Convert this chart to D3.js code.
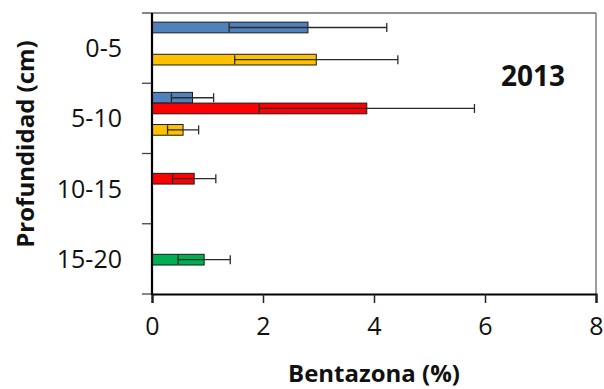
<!DOCTYPE html>
<html>
<head>
<meta charset="utf-8">
<script src="https://cdn.jsdelivr.net/npm/d3@7"></script>
<style>
	html, body { margin: 0; padding: 0; background: #fff; }
	svg { display: block; font-family: 'Open Sans', sans-serif; }
</style>
</head>
<body>
<svg id="chart" width="604" height="389"></svg>
<script>
const depths = ['0-5', '5-10', '10-15', '15-20'];
const seriesNames = ['Serie 1', 'Serie 2', 'Serie 3', 'Serie 4'];
const seriesColors = ['#4F81BD', '#FF0000', '#00B050', '#FFC000'];
// valores por serie (null = sin barra)
const values = [
	[2.81, 0.73, null, null],
	[null, 3.87, 0.76, null],
	[null, null, null, 0.94],
	[2.96, 0.56, null, null],
];
const errors = [
	[1.42, 0.38, null, null],
	[null, 1.94, 0.39, null],
	[null, null, null, 0.47],
	[1.47, 0.28, null, null],
];
const xTicks = [0, 2, 4, 6, 8];
const yearLabel = '2013';

const svg = d3.select('svg#chart');
const margin = { top: 13, right: 8, bottom: 95, left: 152 };
const width = 604, height = 389;
const plotW = width - margin.left - margin.right;
const plotH = height - margin.top - margin.bottom;

const g = svg.append('g').attr('transform', `translate(${margin.left},${margin.top})`);

const x = d3.scaleLinear([0, 8], [0, plotW]);
const y0 = d3.scaleBand(depths, [0, plotH]);
const bw = y0.bandwidth();
const y1 = d3.scaleBand(d3.range(seriesNames.length), [bw * 0.13, bw * 0.74]);

const bars = [];
values.forEach((row, s) => row.forEach((v, i) => {
	if (v != null) bars.push({ s, depth: depths[i], v, e: errors[s][i] });
}));

// marco: superior y derecho finos
g.append('line')
	.attr('x1', 0).attr('x2', plotW).attr('y1', 0).attr('y2', 0)
	.attr('stroke', '#6b6b6b').attr('stroke-width', 1.3);
g.append('line')
	.attr('x1', plotW).attr('x2', plotW).attr('y1', 0).attr('y2', plotH)
	.attr('stroke', '#6b6b6b').attr('stroke-width', 1.3);

// barras
g.selectAll('rect.bar').data(bars).join('rect')
	.attr('class', 'bar')
	.attr('x', 0)
	.attr('y', d => y0(d.depth) + y1(d.s))
	.attr('width', d => x(d.v))
	.attr('height', y1.bandwidth())
	.attr('fill', d => seriesColors[d.s])
	.attr('stroke', '#1c1c1c')
	.attr('stroke-width', 1);

// barras de error
const eb = g.selectAll('g.err').data(bars).join('g')
	.attr('class', 'err')
	.attr('transform', d => `translate(0,${y0(d.depth) + y1(d.s) + y1.bandwidth() / 2})`)
	.attr('stroke', '#2b2b2b')
	.attr('stroke-width', 1.3);
eb.append('line')
	.attr('x1', d => x(d.v - d.e)).attr('x2', d => x(d.v + d.e))
	.attr('y1', 0).attr('y2', 0);
eb.selectAll('line.cap').data(d => [d.v - d.e, d.v + d.e]).join('line')
	.attr('class', 'cap')
	.attr('x1', d => x(d)).attr('x2', d => x(d))
	.attr('y1', -4.5).attr('y2', 4.5);

// eje x
const xAxis = g.append('g').attr('transform', `translate(0,${plotH})`)
	.call(d3.axisBottom(x).tickValues(xTicks).tickSize(9).tickPadding(14));
xAxis.select('.domain').attr('stroke', '#000').attr('stroke-width', 2.2);
xAxis.selectAll('.tick line').attr('stroke', '#222').attr('stroke-width', 1.5);
xAxis.selectAll('.tick text')
	.attr('font-size', 25).attr('fill', '#111')
	.attr('font-family', "'Open Sans', sans-serif");

// eje y: marcas en los limites de cada categoria
const yEdges = depths.map(d => y0(d)).concat([plotH]);
g.selectAll('line.ytick').data(yEdges).join('line')
	.attr('class', 'ytick')
	.attr('x1', -10).attr('x2', 0)
	.attr('y1', d => d).attr('y2', d => d)
	.attr('stroke', '#444').attr('stroke-width', 1.3);
g.append('line')
	.attr('x1', 0).attr('x2', 0).attr('y1', 0).attr('y2', plotH + 1)
	.attr('stroke', '#000').attr('stroke-width', 2.2);
g.selectAll('text.ylab').data(depths).join('text')
	.attr('class', 'ylab')
	.attr('x', -30)
	.attr('y', d => y0(d) + bw / 2 + 9)
	.attr('text-anchor', 'end')
	.attr('font-size', 25)
	.attr('fill', '#111')
	.text(d => d);

// titulos
svg.append('text')
	.attr('x', margin.left + plotW / 2)
	.attr('y', 382)
	.attr('text-anchor', 'middle')
	.attr('font-size', 24)
	.attr('font-weight', 'bold')
	.attr('fill', '#111')
	.text('Bentazona (%)');

svg.append('text')
	.attr('transform', 'translate(34,144) rotate(-90)')
	.attr('text-anchor', 'middle')
	.attr('font-size', 24)
	.attr('font-weight', 'bold')
	.attr('fill', '#111')
	.text('Profundidad (cm)');

svg.append('text')
	.attr('x', 533)
	.attr('y', 86)
	.attr('text-anchor', 'middle')
	.attr('font-size', 28)
	.attr('font-weight', 'bold')
	.attr('fill', '#111')
	.text(yearLabel);
</script>
</body>
</html>
